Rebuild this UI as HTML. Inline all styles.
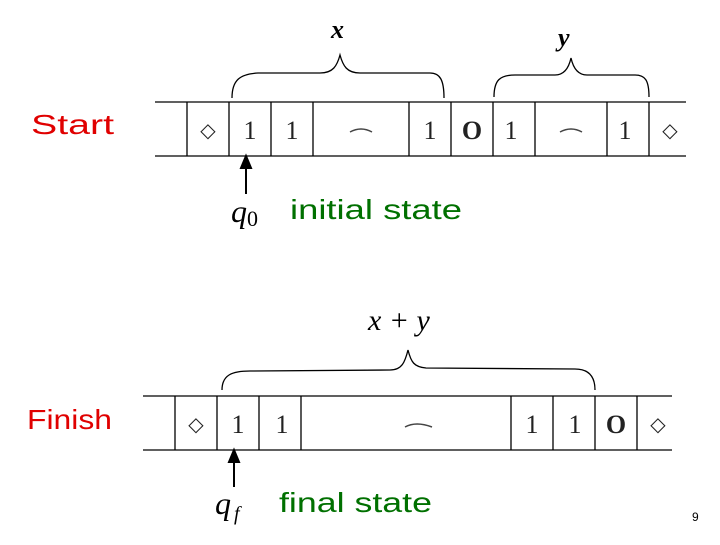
<!DOCTYPE html>
<html><head><style>
body{margin:0;width:720px;height:540px;background:#fff;overflow:hidden}
</style></head><body>
<svg width="720" height="540" xmlns="http://www.w3.org/2000/svg">
<g font-family="Liberation Sans, sans-serif" font-size="28">
<text x="31" y="134" fill="#e00000" textLength="83" lengthAdjust="spacingAndGlyphs">Start</text>
<text x="27" y="429" fill="#e00000" textLength="85" lengthAdjust="spacingAndGlyphs">Finish</text>
<text x="290" y="219" fill="#007000" textLength="172" lengthAdjust="spacingAndGlyphs">initial state</text>
<text x="279" y="512" fill="#007000" textLength="153" lengthAdjust="spacingAndGlyphs">final state</text>
<text x="692" y="521" font-size="12" fill="#000">9</text>
</g>
<g stroke="#000" stroke-width="1.3" fill="none">
<line x1="155" y1="102" x2="686" y2="102"/><line x1="155" y1="156" x2="686" y2="156"/>
<path d="M187 102V156M229 102V156M271 102V156M313 102V156M409 102V156M451 102V156M493 102V156M535 102V156M607 102V156M649 102V156"/>
<line x1="143" y1="396" x2="672" y2="396"/><line x1="143" y1="450" x2="672" y2="450"/>
<path d="M175 396V450M217 396V450M259 396V450M301 396V450M511 396V450M553 396V450M595 396V450M637 396V450"/>
<path d="M232 98C232 80 240 74 258 73L320 73C333 73 337 66 340 55C343 66 347 73 360 73L430 73C440 73 444 80 444 98"/>
<path d="M494 97C494 80 500 75 515 75L555 75C565 75 569 67 571 58C573 67 577 75 587 75L635 75C645 75 649 80 649 97"/>
<path d="M222 390C222 375 232 371 250 371L390 370C402 370 405 362 408 350C411 362 414 367 426 368L575 369C590 369 595 378 595 390"/>
</g>
<g stroke="#000" stroke-width="2" fill="#000">
<line x1="246" y1="194" x2="246" y2="166"/><path d="M241 168L246 156L251 168Z"/>
<line x1="234" y1="487" x2="234" y2="460"/><path d="M229 462L234 450L239 462Z"/>
</g>
<g font-family="Liberation Serif, serif" font-size="26" text-anchor="middle" fill="#222">
<text x="250" y="139">1</text><text x="292" y="139">1</text><text x="430" y="139">1</text>
<text x="472" y="139" font-weight="bold">O</text><text x="511" y="139">1</text><text x="625" y="139">1</text>
<text x="238" y="433">1</text><text x="282" y="433">1</text><text x="532" y="433">1</text><text x="575" y="433">1</text>
<text x="616" y="433" font-weight="bold">O</text>
<text x="208" y="137" font-size="20">◇</text><text x="670" y="137" font-size="20">◇</text>
<text x="196" y="431" font-size="20">◇</text><text x="658" y="431" font-size="20">◇</text>
</g>
<g stroke="#444" stroke-width="1.5" fill="none">
<path d="M350 132Q361 126 372 132"/><path d="M560 132Q571 126 582 132"/><path d="M405 427Q416 421 432 427"/>
</g>
<g font-family="Liberation Serif, serif" font-style="italic" fill="#000">
<text x="331" y="38" font-size="26" font-weight="bold">x</text>
<text x="558" y="46" font-size="26" font-weight="bold">y</text>
<text x="368" y="330" font-size="30">x + y</text>
<text x="231" y="222" font-size="32">q</text><text x="247" y="226" font-size="22" font-style="normal">0</text>
<text x="215" y="514" font-size="32">q</text><text x="234" y="520" font-size="20">f</text>
</g>
</svg>
</body></html>
